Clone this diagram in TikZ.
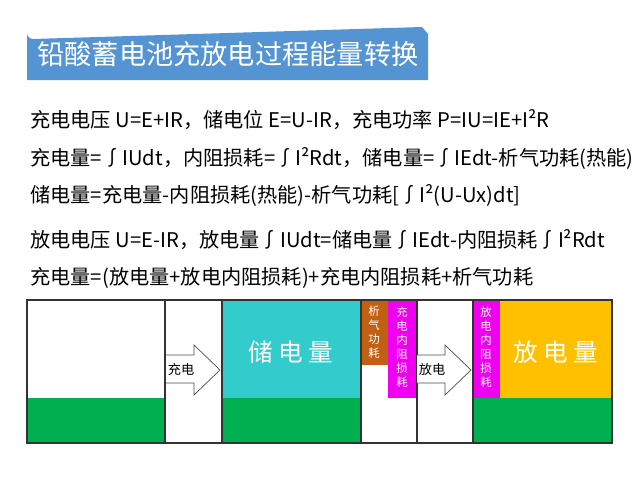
\documentclass[tikz,border=0pt]{standalone}
\usepackage{fontspec}
\setmainfont{Noto Sans CJK SC}
\usetikzlibrary{shapes.arrows}
\begin{document}
\begin{tikzpicture}[x=0.02cm,y=-0.02cm,
  line/.style={anchor=west,font=\fontsize{11.5}{12}\selectfont,inner sep=0},
  vt/.style={font=\fontsize{6.5}{8}\selectfont,text=white,align=center,inner sep=0},
  big/.style={font=\fontsize{14}{16}\selectfont,text=white,inner sep=0}]
\useasboundingbox (0,0) rectangle (640,480);
\definecolor{tb}{RGB}{84,148,210}
\definecolor{cy}{RGB}{51,204,204}
\definecolor{gr}{RGB}{0,176,80}
\definecolor{br}{RGB}{192,96,16}
\definecolor{mg}{RGB}{240,0,240}
\definecolor{og}{RGB}{255,192,0}
\fill[tb] (27,80) -- (27,33) arc(180:90:6) -- (422,27) -- (428,34) -- (428,80) -- cycle;
\node[anchor=west,font=\fontsize{15.5}{17}\selectfont,text=white,inner sep=0] (title) at (37,54) {铅酸蓄电池充放电过程能量转换};
\node[line] (l1) at (30,120) {充电电压 U=E+IR，储电位 E=U-IR，充电功率 P=IU=IE+I²R};
\node[line] (l2) at (30,158) {充电量=∫IUdt，内阻损耗=∫I²Rdt，储电量=∫IEdt-析气功耗(热能)};
\node[line] (l3) at (30,195) {储电量=充电量-内阻损耗(热能)-析气功耗[∫I²(U-Ux)dt]};
\node[line] (l4) at (30,240) {放电电压 U=E-IR，放电量∫IUdt=储电量∫IEdt-内阻损耗∫I²Rdt};
\node[line] (l5) at (30,278) {充电量=(放电量+放电内阻损耗)+充电内阻损耗+析气功耗};
% fills
\fill[cy] (222,300) rectangle (361,398);
\fill[og] (500,300) rectangle (612,398);
\fill[br] (361,300) rectangle (388,365);
\fill[mg] (388,300) rectangle (416,398);
\fill[mg] (473,300) rectangle (500,398);
\fill[gr] (27,398) rectangle (165,443);
\fill[gr] (222,398) rectangle (361,443);
\fill[gr] (473,398) rectangle (612,443);
\draw[thick,black!80] (27,300) rectangle (612,443);
\foreach \x in {165,222,361,417,473} \draw[thick,black!80] (\x,300) -- (\x,443);
% arrows
\draw[black!70,fill=white] (166,355) -- (194,355) -- (194,345) -- (220,370) -- (194,395) -- (194,383) -- (166,383);
\draw[black!70,fill=white] (417,355) -- (445,355) -- (445,345) -- (471,370) -- (445,395) -- (445,383) -- (417,383);
\node[font=\fontsize{7.5}{8}\selectfont,inner sep=0] (c) at (181,369) {充电};
\node[font=\fontsize{7.5}{8}\selectfont,inner sep=0] (d) at (432,369) {放电};
\node[big] (s) at (291,352) {储\ 电\ 量};
\node[big] (f) at (556,352) {放\ 电\ 量};
\node[vt] (b1) at (374,332) {析\\气\\功\\耗};
\node[vt] (m1) at (402,347) {充\\电\\内\\阻\\损\\耗};
\node[vt] (m2) at (486,347) {放\\电\\内\\阻\\损\\耗};
\end{tikzpicture}
\end{document}
